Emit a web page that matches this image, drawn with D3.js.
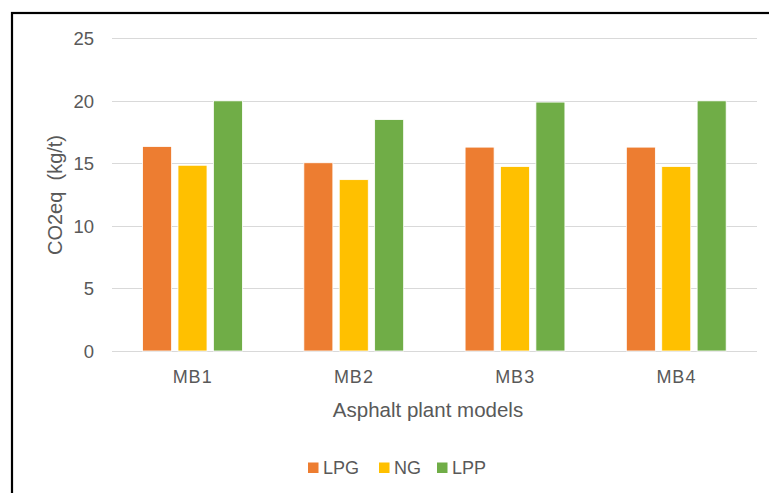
<!DOCTYPE html>
<html>
<head>
<meta charset="utf-8">
<script src="https://cdn.jsdelivr.net/npm/d3@7"></script>
<style>
  html, body { margin: 0; padding: 0; background: #fff; }
  svg { display: block; }
  text { font-family: "Liberation Sans", Arial, sans-serif; fill: #595959; }
</style>
</head>
<body>
<script>
const categories = ["MB1", "MB2", "MB3", "MB4"];
const seriesNames = ["LPG", "NG", "LPP"];
const LPG = [16.35, 15.05, 16.3, 16.3];
const NG  = [14.85, 13.7, 14.75, 14.75];
const LPP = [20.0, 18.5, 19.9, 20.0];
const yTicks = [0, 5, 10, 15, 20, 25];
const colors = ["#ED7D31", "#FFC000", "#70AD47"];
const yTitle = "CO2eq  (kg/t)";
const xTitle = "Asphalt plant models";

const W = 769, H = 493;
const svg = d3.select("body").append("svg").attr("width", W).attr("height", H);

// outer border (extends past right and bottom edges)
svg.append("rect").attr("x", 12).attr("y", 13).attr("width", W + 20).attr("height", H + 20)
  .attr("fill", "#fff").attr("stroke", "#000").attr("stroke-width", 2.2);

const x0 = d3.scaleBand().domain(categories).range([112, 757]).paddingInner(0).paddingOuter(0);
const x1 = d3.scaleBand().domain(seriesNames).range([27.4, 133.6]).paddingInner(0.18).paddingOuter(0.09);
const y = d3.scaleLinear().domain([0, 25]).range([351, 38.3]);

// gridlines
svg.append("g").selectAll("line").data(yTicks).join("line")
  .attr("x1", 112).attr("x2", 757)
  .attr("y1", d => Math.round(y(d)) + 0.5).attr("y2", d => Math.round(y(d)) + 0.5)
  .attr("stroke", "#D9D9D9").attr("stroke-width", 1.2);

// y axis labels via d3 axis
const yAxis = d3.axisLeft(y).tickValues(yTicks).tickSize(0).tickPadding(0);
const gy = svg.append("g").attr("transform", "translate(94,0)").call(yAxis);
gy.select(".domain").remove();
gy.selectAll("text").style("font-size", "18.5px").attr("fill", "#595959")
  .style("font-family", "'Liberation Sans', Arial, sans-serif").attr("dy", "0.34em");

// bars
const data = categories.map((c, i) => ({ c, vals: [LPG[i], NG[i], LPP[i]] }));
const groups = svg.append("g").selectAll("g").data(data).join("g")
  .attr("transform", d => `translate(${x0(d.c)},0)`);
groups.selectAll("rect").data(d => d.vals.map((v, j) => ({ s: seriesNames[j], v, j })))
  .join("rect")
  .attr("x", d => x1(d.s))
  .attr("width", x1.bandwidth())
  .attr("y", d => y(d.v))
  .attr("height", d => y(0) - y(d.v))
  .attr("fill", d => colors[d.j])
  .attr("stroke", "#fff").attr("stroke-width", 0.8);

// x axis labels
const xAxis = d3.axisBottom(x0).tickSize(0).tickPadding(0);
const gx = svg.append("g").attr("transform", "translate(0,377)").call(xAxis);
gx.select(".domain").remove();
gx.selectAll("text").style("font-size", "18px").attr("fill", "#595959")
  .style("font-family", "'Liberation Sans', Arial, sans-serif").attr("dy", "0.35em")
  .style("letter-spacing", "1px");

// axis titles
svg.append("text").attr("x", 428).attr("y", 410).attr("text-anchor", "middle")
  .attr("dy", "0.35em").style("font-size", "20.5px").text(xTitle);
svg.append("text").attr("transform", "translate(55,195) rotate(-90)")
  .attr("text-anchor", "middle").attr("dy", "0.35em").style("font-size", "20px")
  .style("white-space", "pre").text(yTitle);

// legend
const legendX = [308, 379, 437];
const lg = svg.append("g").selectAll("g").data(seriesNames).join("g")
  .attr("transform", (d, i) => `translate(${legendX[i]},468)`);
lg.append("rect").attr("x", 0).attr("y", -5.5).attr("width", 10.5).attr("height", 10.5)
  .attr("fill", (d, i) => colors[i]);
lg.append("text").attr("x", 15).attr("dy", "0.35em").style("font-size", "18px").text(d => d);
</script>
</body>
</html>
